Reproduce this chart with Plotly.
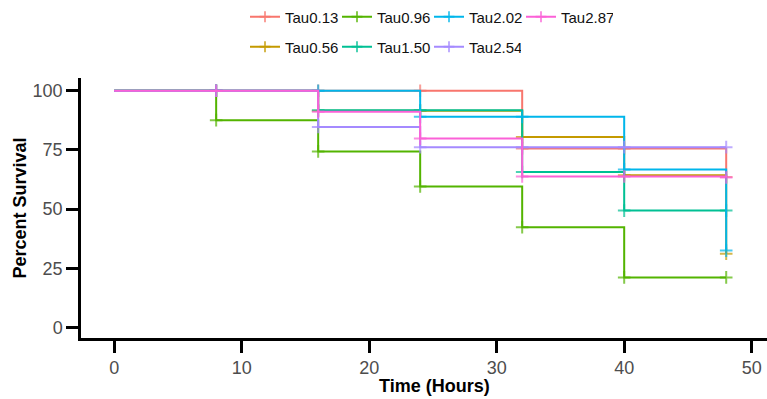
import plotly.graph_objects as go

times = [0, 8, 16, 24, 32, 40, 48]
series_names = ["Tau0.13", "Tau0.56", "Tau0.96", "Tau1.50", "Tau2.02", "Tau2.54", "Tau2.87"]
tau_013 = [100, 100, 100, 100, 75.6, 75.6, 63.6]
tau_056 = [100, 100, 91.6, 91.6, 80.5, 64.3, 31.2]
tau_096 = [100, 87.6, 74.4, 59.6, 42.4, 21.2, 21.2]
tau_150 = [100, 100, 91.8, 91.8, 65.7, 49.4, 49.4]
tau_202 = [100, 100, 100, 89.0, 89.0, 66.8, 32.5]
tau_254 = [100, 100, 84.7, 76.2, 76.2, 76.2, 76.2]
tau_287 = [100, 100, 91.1, 79.8, 63.8, 63.8, 63.4]
colors = ["#F8766D", "#C49A00", "#53B400", "#00C094", "#00B6EB", "#A58AFF", "#FB61D7"]
x_ticks = [0, 10, 20, 30, 40, 50]
y_ticks = [0, 25, 50, 75, 100]

values = [tau_013, tau_056, tau_096, tau_150, tau_202, tau_254, tau_287]
# legend row assignment: top row / bottom row
legend_of = ["legend", "legend2", "legend", "legend2", "legend", "legend2", "legend"]
rank_of = [1, 1, 2, 2, 3, 3, 4]

fig = go.Figure()
for name, vals, col, lg, rk in zip(series_names, values, colors, legend_of, rank_of):
    fig.add_trace(go.Scatter(
        x=times, y=vals, name=name, mode="lines+markers",
        line=dict(color=col, width=2, shape="hv"),
        marker=dict(symbol="cross-thin", size=[0] + [9] * (len(times) - 1),
                    line=dict(color=col, width=2), color=col),
        legend=lg, legendrank=rk,
    ))

W, H = 767, 399
L, R, T = 81, 0, 78
B = H - 338
pw = W - L - R
ph = H - T - B

def px_x(p):  # screen px -> paper x
    return (p - L) / pw

def px_y(p):  # screen px -> paper y
    return (H - B - p) / ph

legend_common = dict(
    orientation="h", xanchor="left", yanchor="middle",
    xref="container", yref="container",
    font=dict(family="Liberation Sans, Arial, sans-serif", size=15, color="#111111"),
    entrywidth=47, entrywidthmode="pixels", bgcolor="rgba(0,0,0,0)",
    traceorder="normal", itemclick=False,
)

fig.update_layout(
    width=W, height=H,
    margin=dict(l=L, r=R, t=T, b=B, autoexpand=False),
    plot_bgcolor="white", paper_bgcolor="white",
    font=dict(family="Liberation Sans, Arial, sans-serif"),
    legend=dict(x=245 / W, y=1 - 17 / H, **legend_common),
    legend2=dict(x=245 / W, y=1 - 47 / H, **legend_common),
    xaxis=dict(
        range=[-2.6, 51.2], tickvals=x_ticks, ticks="outside", ticklen=12, tickwidth=2.5,
        tickcolor="black", showline=True, linecolor="black", linewidth=2.5,
        showgrid=False, zeroline=False, automargin=False,
        tickfont=dict(size=18, color="#4D4D4D"),
    ),
    yaxis=dict(
        range=[-4.4, 105.4], tickvals=y_ticks, ticks="outside", ticklen=12, tickwidth=2.5,
        tickcolor="black", showline=True, linecolor="black", linewidth=2.5,
        showgrid=False, zeroline=False, automargin=False,
        tickfont=dict(size=18, color="#4D4D4D"),
        title=dict(text="<b>Percent Survival</b>", font=dict(size=18, color="black"), standoff=2),
    ),
    annotations=[dict(
        text="<b>Time (Hours)</b>", x=px_x(434), y=px_y(386), xref="paper", yref="paper",
        showarrow=False, xanchor="center", yanchor="middle",
        font=dict(size=18, color="black"),
    )],
)

# remove the browser's default 8px page margin so the figure fills the window
fig.write_html(
    "out.html",
    config={"displayModeBar": False},
    post_script="document.body.style.margin='0px';document.body.style.overflow='hidden';",
)
